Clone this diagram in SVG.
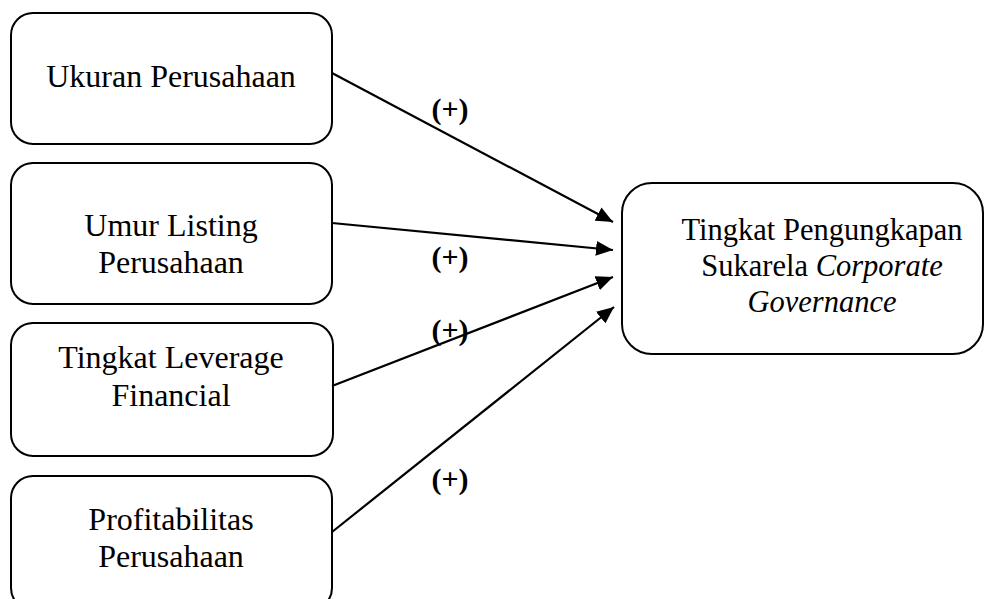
<svg xmlns="http://www.w3.org/2000/svg" width="989" height="599" viewBox="0 0 989 599">
<style>
.box{fill:#fff;stroke:#000;stroke-width:2}
.t{font-family:"Liberation Serif","Times New Roman",serif;font-size:32px;fill:#000;text-anchor:middle}
.r{font-size:30.5px}
.lbl{font-family:"Liberation Serif","Times New Roman",serif;font-size:30px;font-weight:bold;fill:#000;text-anchor:middle}
.c{stroke:#000;stroke-width:2.2;fill:none;marker-end:url(#ah)}
</style>
<defs>
<marker id="ah" markerUnits="userSpaceOnUse" markerWidth="17" markerHeight="15" refX="17" refY="7.5" orient="auto">
<path d="M0,0 L17,7.5 L0,15 z" fill="#000"/>
</marker>
</defs>
<rect width="989" height="599" fill="#fff"/>
<g id="n1"><rect class="box" x="11" y="13" width="321" height="131" rx="22"/><text class="t" x="171" y="87">Ukuran Perusahaan</text></g>
<g id="n2"><rect class="box" x="11" y="163" width="321" height="141" rx="22"/><text class="t" x="171" y="236">Umur Listing</text><text class="t" x="171" y="273">Perusahaan</text></g>
<g id="n3"><rect class="box" x="11" y="323" width="322" height="133" rx="22"/><text class="t" x="171" y="368">Tingkat Leverage</text><text class="t" x="171" y="406">Financial</text></g>
<g id="n4"><rect class="box" x="11" y="476" width="321" height="134" rx="22"/><text class="t" x="171" y="530">Profitabilitas</text><text class="t" x="171" y="567">Perusahaan</text></g>
<g id="n5"><rect class="box" x="622" y="183" width="361" height="171" rx="30"/><text class="t r" x="822" y="240">Tingkat Pengungkapan</text><text class="t r" x="822" y="276">Sukarela <tspan font-style="italic">Corporate</tspan></text><text class="t r" x="822" y="312" font-style="italic">Governance</text></g>
<g id="connectors">
<line class="c" x1="332" y1="73" x2="613" y2="222"/>
<line class="c" x1="332" y1="223" x2="613" y2="250"/>
<line class="c" x1="332" y1="386" x2="613" y2="277"/>
<line class="c" x1="332" y1="532" x2="614" y2="307"/>
<text class="lbl" x="450" y="119">(+)</text>
<text class="lbl" x="450" y="267">(+)</text>
<text class="lbl" x="450" y="340">(+)</text>
<text class="lbl" x="450" y="489">(+)</text>
</g>
</svg>
